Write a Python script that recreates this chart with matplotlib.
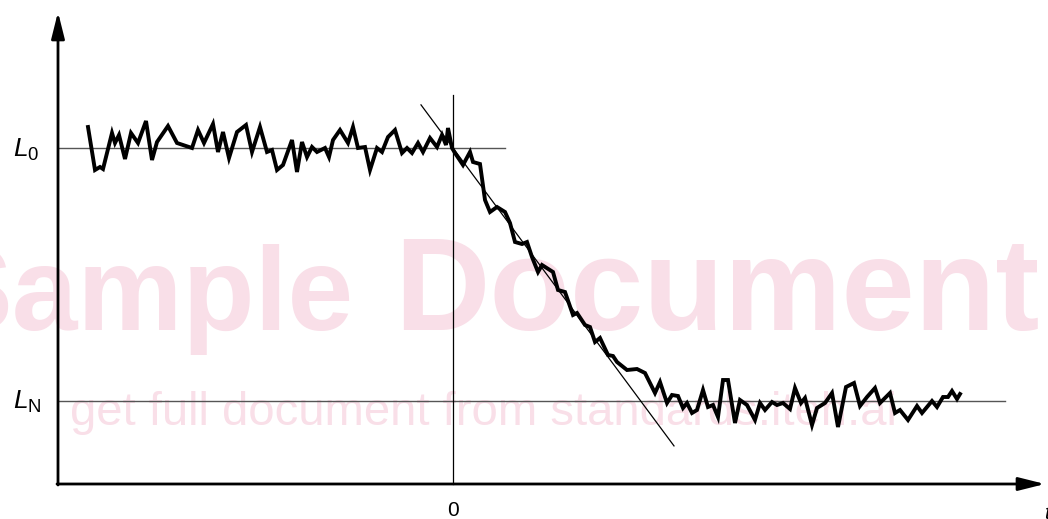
import matplotlib
matplotlib.use("Agg")
import matplotlib.pyplot as plt
import numpy as np

plt.rcParams['font.family'] = ['Liberation Sans', 'DejaVu Sans']
plt.rcParams['mathtext.fontset'] = 'custom'
plt.rcParams['mathtext.rm'] = 'Liberation Sans'
plt.rcParams['mathtext.it'] = 'Liberation Sans:italic'

# levels (signal units, LN = 0, L0 = 253)
L0 = 253
LN = 0

# measured signal trace: time t and level
t = [-365, -358, -353, -350, -341, -338, -334, -328, -322, -315, -307, -301, -296,
     -285, -276, -261, -255, -249, -240, -235, -230, -224, -216, -207, -201, -193,
     -186, -181, -176, -170, -161, -156, -151, -146, -141, -136, -128, -124, -120,
     -113, -105, -100, -95, -88, -83, -76, -71, -65, -58, -51, -46, -41, -35, -30,
     -23, -16, -11, -7, -5, -1,
     2, 10, 17, 20, 27, 32, 37, 44, 52, 57, 62, 69, 74, 79, 85, 89, 100, 105, 112,
     120, 124, 132, 137, 142, 147, 155, 160, 164, 174, 184, 192, 202, 207, 214,
     219, 225, 230, 234, 239, 244, 250, 255, 260, 265, 270, 275, 282, 287, 294,
     302, 307, 312, 319, 324, 330, 337, 342, 348, 352, 359, 364, 372, 379, 385,
     393, 401, 407, 414, 422, 427, 437, 442, 447, 455, 464, 469, 479, 484, 490,
     495, 499, 504, 507]
level = [274, 231, 234, 232, 268, 258, 266, 242, 268, 258, 280, 241, 259,
         275, 258, 253, 271, 258, 277, 249, 269, 243, 269, 276, 249, 274,
         249, 251, 231, 236, 261, 229, 259, 244, 254, 249, 253, 244, 261,
         271, 258, 274, 253, 254, 231, 253, 249, 264, 271, 248, 253, 248, 258, 249,
         263, 254, 266, 256, 273, 253,
         248, 236, 249, 239, 237, 201, 189, 194, 189, 178, 159, 157, 159, 144, 129,
         136, 129, 111, 109, 86, 88, 76, 74, 59, 63, 46, 45, 39, 31, 32, 28, 8, 19,
         -2, 6, 5, -7, -2, -12, -9, 11, -6, -4, -16, 21, 21, -22, 1, -4,
         -19, -2, -9, -1, -4, -2, -8, 13, -2, 3, -24, -7, -2, 8, -26,
         14, 18, -5, 4, 13, -2, 8, -12, -9, -19, -5, -12, 0, -6, 4,
         4, 10, 2, 7]

# tangent at t = 0
slope = -1.348
tan_t = np.array([-32, 221])
tan_y = L0 + slope * tan_t

t_axis0, t_axis1 = -395, 592
y_axis0, y_axis1 = -83, 389

fig = plt.figure(figsize=(10.48, 5.19), dpi=100)
ax = fig.add_axes([0, 0, 1, 1])
ax.set_xlim(-453, 595)
ax.set_ylim(-118, 401)
ax.axis('off')

# watermark (under everything)
wm = '#f9dfe8'
tf = fig.transFigure
ax.text(354 / 1048, 1 - 330 / 519, 'Sample', fontsize=85, fontweight='bold',
        color=wm, ha='right', va='baseline', transform=tf, zorder=0)
ax.text(394 / 1048, 1 - 330 / 519, 'Document', fontsize=95, fontweight='bold',
        color=wm, ha='left', va='baseline', transform=tf, zorder=0)
ax.text(70 / 1048, 1 - 425 / 519, 'get full document from standards.iteh.ai', fontsize=34,
        color=wm, ha='left', va='baseline', transform=tf, zorder=0)

# reference lines
ax.plot([t_axis0, 52], [L0, L0], color='#555555', lw=1.0, zorder=2)
ax.plot([t_axis0, 552], [LN, LN], color='#555555', lw=1.0, zorder=2)
ax.plot([0, 0], [y_axis0, 306], color='black', lw=0.9, zorder=2)
ax.plot(tan_t, tan_y, color='black', lw=0.9, zorder=2)

# signal
ax.plot(t, level, color='black', lw=2.8, solid_joinstyle='miter', zorder=3)

# axes with arrows
arrow = dict(arrowstyle='-|>,head_length=0.8,head_width=0.2', color='black', lw=2.0,
             mutation_scale=20, shrinkA=0, shrinkB=0)
ax.annotate('', xy=(t_axis1, y_axis0), xytext=(t_axis0 - 1, y_axis0), arrowprops=arrow, zorder=4)
ax.annotate('', xy=(t_axis0, y_axis1), xytext=(t_axis0, y_axis0 - 1), arrowprops=arrow, zorder=4)

# labels
ax.text(-440, L0 - 9, '$L_0$', fontsize=19, ha='left', va='baseline')
ax.text(-440, LN - 8, '$L_\\mathrm{N}$', fontsize=19, ha='left', va='baseline')
ax.text(0, -115, '0', fontsize=15, ha='center', va='baseline')
ax.text(591, -118, '$t$', fontsize=15, ha='left', va='baseline')

fig.savefig('out.png', dpi=100)
